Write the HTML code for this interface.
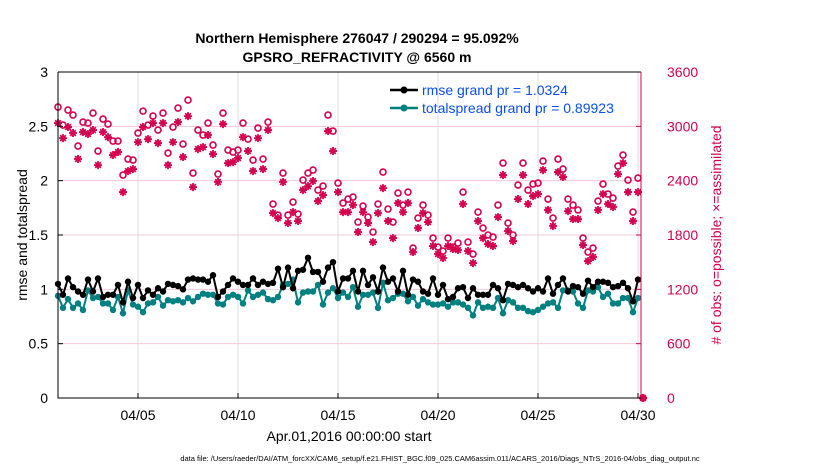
<!DOCTYPE html>
<html><head><meta charset="utf-8"><style>
body{margin:0;background:#fff;}
svg{display:block;font-family:"Liberation Sans",sans-serif;}
</style></head><body>
<svg id="chart" width="830" height="470" viewBox="0 0 830 470">
<text x="357" y="43" text-anchor="middle" font-size="14" font-weight="bold">Northern Hemisphere 276047 / 290294 = 95.092%</text>
<text x="357" y="62" text-anchor="middle" font-size="14" font-weight="bold">GPSRO_REFRACTIVITY @ 6560 m</text>
<g id="grid"></g>
<g id="marks"></g>
<g id="axes"></g>
<text transform="translate(27,235) rotate(-90)" text-anchor="middle" font-size="14">rmse and totalspread</text>
<text transform="translate(721,235) rotate(-90)" text-anchor="middle" font-size="14" fill="#d4004f"># of obs: o=possible; ×=assimilated</text>
<text x="349" y="441" text-anchor="middle" font-size="14">Apr.01,2016 00:00:00 start</text>
<text x="440" y="461" text-anchor="middle" font-size="7.5">data file: /Users/raeder/DAI/ATM_forcXX/CAM6_setup/f.e21.FHIST_BGC.f09_025.CAM6assim.011/ACARS_2016/Diags_NTrS_2016-04/obs_diag_output.nc</text>
<g>
<line x1="390" y1="90" x2="418" y2="90" stroke="#000" stroke-width="2.5"/><circle cx="404" cy="90" r="3.5" fill="#000"/>
<text x="422" y="95" font-size="14" fill="#0a4ff0">rmse grand pr = 1.0324</text>
<line x1="390" y1="108" x2="418" y2="108" stroke="#008080" stroke-width="2.5"/><circle cx="404" cy="108" r="3.5" fill="#008080"/>
<text x="422" y="113" font-size="14" fill="#0a4ff0">totalspread grand pr = 0.89923</text>
</g>
</svg>
<script>
const rmse=[1.05,0.95,1.10,1.02,0.98,0.95,1.09,0.98,1.10,0.93,0.95,0.95,1.04,0.88,1.07,0.92,1.04,0.92,0.99,0.95,1.01,0.98,1.05,1.04,1.03,1.00,1.09,1.10,1.09,1.09,
1.07,1.13,0.93,0.98,1.04,1.10,1.07,1.04,1.04,1.10,1.04,1.07,1.05,1.06,1.19,1.02,1.20,1.01,1.17,1.18,1.29,1.16,1.16,1.07,1.20,1.25,0.98,1.10,1.10,
1.17,0.98,1.17,1.04,1.11,0.98,1.20,1.07,1.10,0.98,1.17,0.95,1.09,1.07,0.98,0.96,1.10,0.95,1.04,0.91,0.93,1.01,1.02,0.92,1.01,0.95,0.95,0.95,1.04,
1.01,0.90,1.05,1.04,1.02,1.04,1.01,0.98,1.01,0.98,1.10,0.96,1.04,1.10,0.98,1.03,1.02,0.96,1.08,1.02,1.07,1.07,1.06,1.02,1.03,1.06,1.01,0.89,1.09];
const spread=[0.94,0.83,0.91,0.83,0.87,0.81,0.99,0.92,0.93,0.87,0.87,0.81,0.93,0.78,0.99,0.86,0.84,0.79,0.87,0.88,0.93,0.85,0.90,0.89,0.90,0.88,0.92,0.89,0.93,0.96,
0.95,0.95,0.87,0.86,0.93,0.95,0.93,0.87,0.99,0.93,0.95,0.97,0.91,0.90,0.93,1.04,1.05,1.09,0.88,0.97,0.98,0.98,1.04,0.86,0.97,1.01,0.92,0.97,0.93,
1.02,0.84,0.95,0.95,0.97,0.83,1.06,0.90,0.92,0.96,0.96,0.89,0.93,0.85,0.91,0.88,0.86,0.86,0.87,0.84,0.88,0.88,0.86,0.83,0.76,0.88,0.83,0.84,0.83,
0.92,0.78,0.90,0.88,0.83,0.83,0.80,0.79,0.81,0.84,0.87,0.88,0.83,0.99,0.99,0.98,0.87,0.83,0.99,0.98,1.02,0.93,0.96,0.87,0.87,0.92,0.92,0.79,0.92];
const possible=[3213,3014,3180,3124,2782,3047,3036,3146,2727,3080,3025,2837,2837,2462,2639,2628,2926,3168,3014,3113,2959,3146,2705,2992,3202,2804,3290,2484,2959,2904,
3036,2793,2473,3146,2738,2716,2738,3036,2859,2628,2981,2639,3047,2142,2020,2484,2020,2164,2031,2407,2484,2517,2296,2340,3124,2948,2374,2153,2197,
2219,1943,2120,1998,1833,2142,2495,2087,1943,2263,2131,2274,1656,1987,2131,2020,1766,1667,1623,1766,1667,1711,2274,1722,1590,2053,1877,1800,1777,
2131,2594,1932,1800,2352,2594,2296,2363,2374,2616,2197,1987,2639,2528,2197,2131,2076,1766,1612,1656,2175,2363,2252,2208,2561,2683,2407,2053,2429,0];
const assimilated=[3036,2870,2992,2926,2639,2937,2915,2959,2572,2937,2881,2683,2716,2274,2506,2528,2826,2992,2859,3036,2815,3036,2572,2826,3047,2661,3113,2329,2749,2771,
2904,2694,2385,3025,2594,2605,2650,2881,2727,2506,2870,2528,2959,2042,1987,2385,1932,2053,1954,2296,2340,2396,2175,2241,2948,2727,2274,2053,2053,
2131,1833,2053,1932,1722,2042,2318,1954,1766,2153,2053,2153,1612,1877,2042,1943,1678,1590,1546,1678,1645,1634,2142,1623,1490,1954,1766,1700,1678,
1998,2462,1844,1733,2197,2462,2142,2230,2252,2517,2076,1899,2495,2440,2064,1976,1976,1689,1512,1557,2076,2252,2142,2109,2473,2594,2274,1954,2274,0];
const xTickLabels=["04/05","04/10","04/15","04/20","04/25","04/30"];
const xTickDays=[4,9,14,19,24,29];
const yTicks=[0,0.5,1,1.5,2,2.5,3];
const y2Ticks=[0,600,1200,1800,2400,3000,3600];
const stepDays=0.25;

const NS="http://www.w3.org/2000/svg";
const L=58,R=641,T=72,B=398;
const X=d=>L+d*20;
const Y=v=>B-(v/3)*(B-T);
const Y2=v=>B-(v/3600)*(B-T);
const CR="#d4004f";
function mk(tag,attrs,parent){const e=document.createElementNS(NS,tag);for(const k in attrs)e.setAttribute(k,attrs[k]);parent.appendChild(e);return e;}
const grid=document.getElementById('grid'),marks=document.getElementById('marks'),axes=document.getElementById('axes');

xTickDays.forEach((d,i)=>{
  const g=mk('line',{x1:X(d),x2:X(d),y1:T,y2:B,stroke:'#dcdcdc','stroke-width':1},grid);
  
  
  const t=mk('line',{x1:X(d),x2:X(d),y1:B,y2:B-5,stroke:'#000'},axes);
  
  
  const lb=mk('text',{x:X(d),y:B+22,'text-anchor':'middle','font-size':14},axes);
  lb.textContent=xTickLabels[i];
  
  
});
y2Ticks.forEach(v=>{
  if(v>0&&v<3600){const g=mk('line',{x1:L,x2:R,y1:Y2(v),y2:Y2(v),stroke:'#f4c8d8','stroke-width':1},grid);
  
  }
  const lb=mk('text',{x:R+26,y:Y2(v)+5,'text-anchor':'start','font-size':14,fill:CR},axes);
  lb.textContent=v;
  
  
  const t=mk('line',{x1:R,x2:R-5,y1:Y2(v),y2:Y2(v),stroke:CR},axes);
  
  
});
yTicks.forEach(v=>{
  const lb=mk('text',{x:L-10,y:Y(v)+5,'text-anchor':'end','font-size':14},axes);
  lb.textContent=String(v);
  
  
  const t=mk('line',{x1:L,x2:L+5,y1:Y(v),y2:Y(v),stroke:'#000'},axes);
  
  
});
const ax1=mk('path',{d:`M${L},${T}V${B}H${R}M${L},${T}H${R}`,stroke:'#000',fill:'none','stroke-width':1},axes);


const ax2=mk('line',{x1:R,x2:R,y1:T,y2:B,stroke:CR,'stroke-width':1},axes);



// counts
possible.forEach((v,i)=>{
  const c=mk('circle',{cx:X(i*stepDays),cy:Y2(v),r:3,fill:'none',stroke:CR,'stroke-width':1.6},marks);
  
  
});
assimilated.forEach((v,i)=>{
  const x=X(i*stepDays),y=Y2(v);let d='';
  for(let a=0;a<4;a++){const an=a*Math.PI/4,dx=4*Math.cos(an),dy=4*Math.sin(an);d+=`M${x-dx},${y-dy}L${x+dx},${y+dy}`;}
  const p=mk('path',{d:d,stroke:CR,'stroke-width':1.8},marks);
  
  
});
function series(arr,color,name){
  const pts=arr.map((v,i)=>`${X(i*stepDays)},${Y(v)}`).join(' ');
  const pl=mk('polyline',{points:pts,fill:'none',stroke:color,'stroke-width':2},marks);
  
  
  arr.forEach((v,i)=>{
    const c=mk('circle',{cx:X(i*stepDays),cy:Y(v),r:3.2,fill:color},marks);
    
    
  });
}
series(spread,'#008080','totalspread');
series(rmse,'#000','rmse');
</script>
</body></html>
